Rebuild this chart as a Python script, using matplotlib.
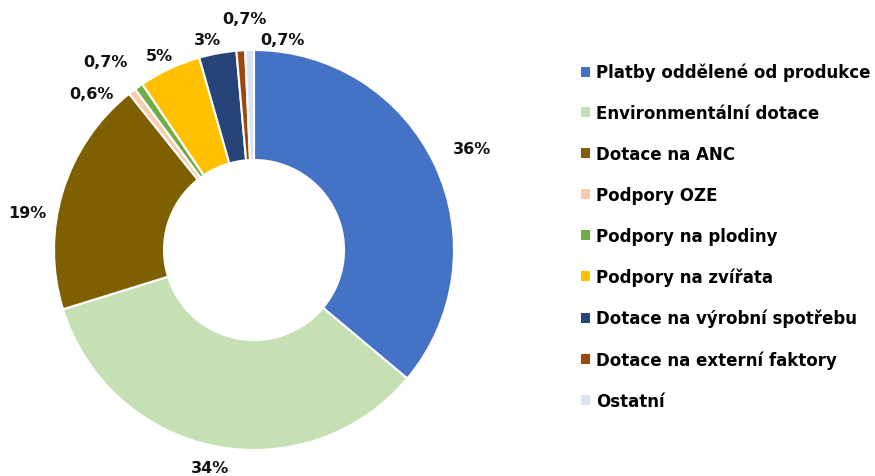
import matplotlib
matplotlib.use("Agg")
import matplotlib.pyplot as plt
import numpy as np
from matplotlib.patches import Patch

categories = [
    "Platby oddělené od produkce",
    "Environmentální dotace",
    "Dotace na ANC",
    "Podpory OZE",
    "Podpory na plodiny",
    "Podpory na zvířata",
    "Dotace na výrobní spotřebu",
    "Dotace na externí faktory",
    "Ostatní",
]
shares = [36, 34, 19, 0.6, 0.7, 5, 3, 0.7, 0.7]
labels = ["36%", "34%", "19%", "0,6%", "0,7%", "5%", "3%", "0,7%", "0,7%"]
colors = ["#4472C4", "#C5E0B4", "#7F6000", "#F8CBAD", "#70AD47",
          "#FFC000", "#264478", "#9E480E", "#DAE3F3"]

# label placement: radial distance and angular nudge (degrees, clockwise)
label_dist = [1.20, 1.11, 1.15, 1.13, 1.20, 1.08, 1.08, 1.16, 1.06]
label_nudge = [0, 0, -7.8, -8.5, -3, -1, -2, 1.5, 9]

plt.rcParams["font.family"] = ["DejaVu Sans"]

fig = plt.figure(figsize=(8.75, 4.77), dpi=100)
ax = fig.add_axes([54 / 875, 26 / 477, 400 / 875, 400 / 477])

wedges, _ = ax.pie(
    shares, colors=colors, startangle=90, counterclock=False,
    radius=1.0, wedgeprops=dict(width=0.55, edgecolor="white", linewidth=1.5),
)
ax.set_xlim(-1, 1)
ax.set_ylim(-1, 1)
ax.set_aspect("equal")
ax.axis("off")

for w, lab, d, nudge in zip(wedges, labels, label_dist, label_nudge):
    mid = np.deg2rad((w.theta1 + w.theta2) / 2 - nudge)
    ax.text(d * np.cos(mid), d * np.sin(mid), lab, ha="center", va="center",
            fontsize=11.5, fontweight="bold", color="#111111")

handles = [Patch(facecolor=c, edgecolor="none") for c in colors]
fig.legend(handles, categories, loc="upper left",
           bbox_to_anchor=(581 / 875, 1 - 64 / 477), frameon=False,
           prop=dict(size=12, weight="bold"), labelspacing=1.37,
           handlelength=0.55, handleheight=0.55, handletextpad=0.35,
           borderaxespad=0, borderpad=0)

fig.savefig("out.png", dpi=100)
